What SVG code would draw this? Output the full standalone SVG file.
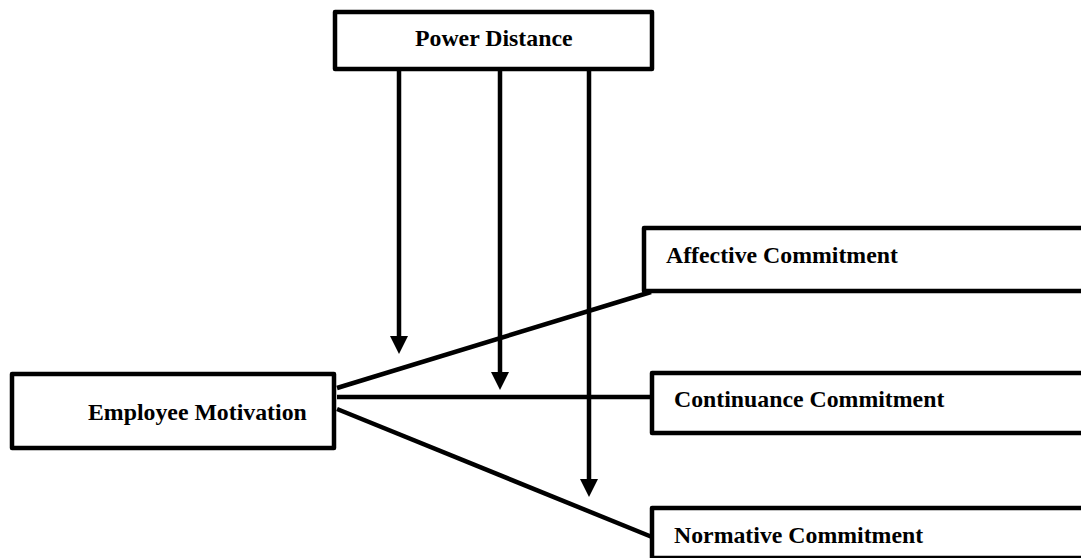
<svg xmlns="http://www.w3.org/2000/svg" width="1081" height="558" viewBox="0 0 1081 558">
<style>
.box{fill:#fff;stroke:#000;stroke-width:4.5;stroke-linejoin:round}
.lbl{font-family:"Liberation Serif","Times New Roman",serif;font-weight:bold;font-size:23.8px;fill:#000}
.ln{stroke:#000;stroke-width:4.5;fill:none}
</style>
<defs>
<marker id="ah" markerUnits="userSpaceOnUse" markerWidth="18" markerHeight="18" viewBox="0 0 18 18" refX="4" refY="9" orient="auto">
<path d="M0,0 L18,9 L0,18 Z" fill="#000"/>
</marker>
</defs>
<g id="connectors">
<line class="ln" x1="337" y1="388" x2="651" y2="292"/>
<line class="ln" x1="337" y1="397" x2="652" y2="397"/>
<line class="ln" x1="337" y1="409" x2="652" y2="537"/>
<line class="ln" x1="399" y1="70" x2="399" y2="340" marker-end="url(#ah)"/>
<line class="ln" x1="500" y1="70" x2="500" y2="376" marker-end="url(#ah)"/>
<line class="ln" x1="589" y1="70" x2="589" y2="483" marker-end="url(#ah)"/>
</g>
<g id="power-distance">
<rect class="box" x="335" y="12" width="317" height="57"/>
<text class="lbl" x="415" y="46">Power Distance</text>
</g>
<g id="employee-motivation">
<rect class="box" x="12" y="374" width="322" height="74"/>
<text class="lbl" x="88" y="420">Employee Motivation</text>
</g>
<g id="affective-commitment">
<rect class="box" x="644" y="228" width="460" height="63"/>
<text class="lbl" x="666" y="263">Affective Commitment</text>
</g>
<g id="continuance-commitment">
<rect class="box" x="652" y="373" width="460" height="60"/>
<text class="lbl" x="674" y="407">Continuance Commitment</text>
</g>
<g id="normative-commitment">
<rect class="box" x="652" y="508" width="460" height="50"/>
<text class="lbl" x="674" y="543">Normative Commitment</text>
</g>
</svg>
